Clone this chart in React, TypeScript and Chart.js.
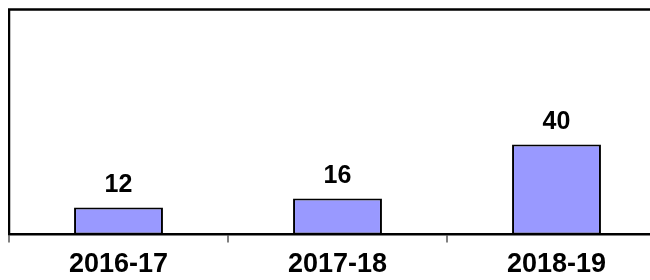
import React, { useEffect, useRef } from "react";
import { Chart, registerables } from "chart.js";

Chart.register(...registerables);

const categories = ["2016-17", "2017-18", "2018-19"];
const values = [12, 16, 40];
const yMin = 0;
const yMax = 100;

const FONT = "'Liberation Sans', Arial, sans-serif";

const framePlugin = {
  id: "frame",
  afterDraw(chart: any) {
    const { ctx, chartArea } = chart;
    ctx.save();
    ctx.strokeStyle = "#000";
    ctx.lineWidth = 2.5;
    ctx.beginPath();
    ctx.moveTo(chartArea.left, chartArea.bottom);
    ctx.lineTo(chartArea.left, chartArea.top);
    ctx.lineTo(chartArea.right, chartArea.top);
    ctx.stroke();
    ctx.restore();
  },
};

const valueLabelPlugin = {
  id: "valueLabels",
  afterDatasetsDraw(chart: any) {
    const { ctx } = chart;
    const meta = chart.getDatasetMeta(0);
    ctx.save();
    ctx.fillStyle = "#000";
    ctx.font = `bold 25px ${FONT}`;
    ctx.textAlign = "center";
    ctx.textBaseline = "alphabetic";
    meta.data.forEach((bar: any, i: number) => {
      ctx.fillText(String(values[i]), bar.x, bar.y - 16);
    });
    ctx.restore();
  },
};

export default function App() {
  const ref = useRef<HTMLCanvasElement>(null);
  useEffect(() => {
    document.documentElement.style.overflow = "hidden";
    document.body.style.overflow = "hidden";
    if (!ref.current) return;
    const chart = new Chart(ref.current, {
      type: "bar",
      data: {
        labels: categories,
        datasets: [
          {
            data: values,
            backgroundColor: "#9999FF",
            borderColor: "#000",
            borderWidth: 2,
            borderSkipped: false,
            categoryPercentage: 1,
            barPercentage: 0.406,
          },
        ],
      },
      options: {
        animation: false,
        responsive: false,
        maintainAspectRatio: false,
        layout: { padding: { left: 1, top: 1.5, right: 42, bottom: 0 } },
        plugins: {
          legend: { display: false },
          tooltip: { enabled: false },
          title: { display: false },
        },
        scales: {
          y: {
            display: false,
            min: yMin,
            max: yMax,
          },
          x: {
            offset: true,
            grid: {
              offset: true,
              drawOnChartArea: false,
              drawTicks: true,
              tickLength: 8,
              color: "#808080",
              lineWidth: 2,
            },
            border: { display: true, color: "#000", width: 2.5 },
            ticks: {
              color: "#000",
              font: { family: FONT, size: 27, weight: "bold" },
              padding: 6,
              maxRotation: 0,
              autoSkip: false,
            },
            afterFit: (axis: any) => {
              axis.height = 45.5;
            },
          },
        },
      },
      plugins: [framePlugin, valueLabelPlugin],
    });
    return () => chart.destroy();
  }, []);
  return (
    <div style={{ position: "absolute", left: 8, top: 8, width: 642, height: 272, overflow: "hidden" }}>
      <canvas ref={ref} width={700} height={272} style={{ display: "block", width: 700, height: 272 }} />
    </div>
  );
}
